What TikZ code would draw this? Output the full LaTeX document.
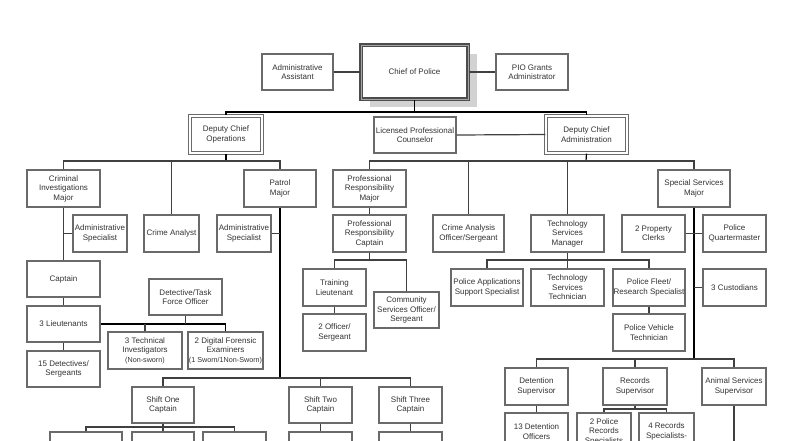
\documentclass[tikz,border=0pt]{standalone}
\usepackage{fontspec}
\setmainfont{Liberation Sans}
\definecolor{bord}{HTML}{6A6A6A}
\definecolor{txt}{HTML}{333333}
\definecolor{shad}{HTML}{D2D2D2}
\tikzset{
  box/.style={draw=bord, line width=1.1pt, fill=white, align=center, inner sep=0.5pt,
    text=txt, font=\fontsize{6}{7.1}\selectfont},
  dbl/.style={draw=bord, line width=0.9pt, double=white, double distance=0.8pt},
  chiefbox/.style={draw=black!70, line width=1.1pt, double=black!35, double distance=0.7pt},
  trunk/.style={draw=black, line width=0.9pt},
  link/.style={draw=black!75, line width=0.9pt}
}
\newcommand\smalltxt{\fontsize{5.4}{6.4}\selectfont}
\newcommand\bx[7][]{\node[box,#1,minimum width={(#5-#3)*0.75pt},minimum height={(#6-#4)*0.75pt}] (#2) at ({(#3+#5)/2},{(#4+#6)/2}) {#7};}
\begin{document}
\begin{tikzpicture}[x=0.75pt,y=-0.75pt]
\useasboundingbox (0,0) rectangle (793,440);
\clip (0,0) rectangle (793,440);
% top
\bx[fill=shad,draw=none]{chiefsh}{370}{54}{477}{107}{}
\bx[chiefbox]{chief}{361}{45}{468}{99}{Chief of Police}
\bx{adma}{262}{54}{333}{90}{Administrative\\Assistant}
\bx{pio}{496}{54}{568}{90}{PIO Grants\\Administrator}
\bx[dbl]{dco}{190}{116}{262}{153}{Deputy Chief\\Operations}
\bx{lpc}{374}{117}{456}{153}{Licensed Professional\\Counselor}
\bx[dbl]{dca}{546}{116}{627}{153}{Deputy Chief\\Administration}
% operations
\bx{cim}{27}{170}{100}{207}{Criminal\\Investigations\\Major}
\bx{as1}{73}{215}{127}{252}{Administrative\\Specialist}
\bx{ca}{144}{215}{199}{252}{Crime Analyst}
\bx{as2}{217}{215}{271}{252}{Administrative\\Specialist}
\bx{pm}{244}{170}{316}{207}{Patrol\\Major}
\bx{cap}{27}{261}{100}{297}{Captain}
\bx{dtf}{149}{279}{222}{315}{Detective/Task\\Force Officer}
\bx{lt3}{27}{306}{100}{342}{3 Lieutenants}
\bx{ti3}{108}{332}{182}{369}{3 Technical\\Investigators\\{\smalltxt (Non-sworn)}}
\bx{dfe}{189}{332}{262}{369}{2 Digital Forensic\\Examiners\\{\smalltxt (1 Sworn/1Non-Sworn)}}
\bx{ds15}{27}{351}{100}{387}{15 Detectives/\\Sergeants}
\bx{s1}{132}{387}{194}{423}{Shift One\\Captain}
\bx{s2}{289}{387}{352}{423}{Shift Two\\Captain}
\bx{s3}{379}{387}{442}{423}{Shift Three\\Captain}
\bx{s1a}{50}{432}{122}{469}{}
\bx{s1b}{132}{432}{194}{469}{}
\bx{s1c}{203}{432}{266}{469}{}
\bx{s2a}{289}{432}{352}{469}{}
\bx{s3a}{379}{432}{442}{469}{}
% administration
\bx{prm}{333}{170}{406}{207}{Professional\\Responsibility\\Major}
\bx{prc}{333}{215}{406}{252}{Professional\\Responsibility\\Captain}
\bx{cao}{433}{215}{504}{252}{Crime Analysis\\Officer/Sergeant}
\bx{tsm}{531}{215}{604}{252}{Technology\\Services\\Manager}
\bx{ssm}{658}{170}{730}{207}{Special Services\\Major}
\bx{ppc}{622}{215}{685}{252}{2 Property\\Clerks}
\bx{pq}{703}{215}{766}{252}{Police\\Quartermaster}
\bx{tl}{303}{269}{366}{306}{Training\\Lieutenant}
\bx{cso}{374}{292}{439}{328}{Community\\Services Officer/\\Sergeant}
\bx{os2}{303}{314}{366}{351}{2 Officer/\\Sergeant}
\bx{pas}{451}{269}{523}{306}{Police Applications\\Support Specialist}
\bx{tst}{531}{269}{604}{306}{Technology\\Services\\Technician}
\bx{pfr}{613}{269}{685}{306}{Police Fleet/\\Research Specialist}
\bx{pvt}{613}{314}{685}{351}{Police Vehicle\\Technician}
\bx{cu3}{703}{269}{766}{306}{3 Custodians}
\bx{dsup}{505}{368}{568}{405}{Detention\\Supervisor}
\bx{rsup}{603}{368}{667}{405}{Records\\Supervisor}
\bx{asup}{702}{368}{766}{405}{Animal Services\\Supervisor}
\bx{do13}{505}{413}{568}{450}{13 Detention\\Officers}
\bx{pr2}{577}{413}{631}{450}{2 Police\\Records\\Specialists}
\bx{rs4}{639}{413}{694}{450}{4 Records\\Specialists-}
% junctions
\coordinate (j0) at (414.5,112);
\coordinate (j1) at (226,161);
\coordinate (j2) at (280,378);
\coordinate (j4) at (163,427);
\coordinate (j5) at (586,161);
\coordinate (j6) at (369.5,260);
\coordinate (j7) at (567.5,260);
\coordinate (j8) at (694,359);
\coordinate (j9) at (635,409);
\coordinate (aend) at (734,470);
% connectors
\draw[link] (adma.east) -- (chief.west);
\draw[link] (chief.east) -- (pio.west);
\draw[link] (lpc.east) -- (dca.west);
\draw[trunk] (chief.south) -- (j0);
\draw[trunk] (dco.north) |- (j0) -| (dca.north);
\draw[trunk] (dco.south) -- (j1);
\draw[link] (cim.north) |- (j1) -| (pm.north);
\draw[link] (ca.north) -- (ca.north |- j1);
\draw[link] (cim.south) -- (cap.north);
\draw[link] (as1.west) -- (as1.west -| cim.south);
\draw[link] (cap.south) -- (lt3.north);
\draw[link] (lt3.south) -- (ds15.north);
\draw[trunk] (lt3.east) -| (dfe.north);
\draw[link] (dtf.south) -- (dtf.south |- lt3.east);
\draw[link] (ti3.north) -- (ti3.north |- lt3.east);
\draw[trunk] (pm.south) -- (j2);
\draw[link] (as2.east) -- (as2.east -| pm.south);
\draw[link] (s1.north) |- (j2) -| (s3.north);
\draw[link] (s2.north) -- (s2.north |- j2);
\draw[link] (s1.south) -- (s1b.north);
\draw[link] (s1a.north) |- (j4) -| (s1c.north);
\draw[link] (s2.south) -- (s2a.north);
\draw[link] (s3.south) -- (s3a.north);
\draw[trunk] (dca.south) -- (j5);
\draw[link] (prm.north) |- (j5) -| (ssm.north);
\draw[link] (cao.north) -- (cao.north |- j5);
\draw[link] (tsm.north) -- (tsm.north |- j5);
\draw[link] (prm.south) -- (prc.north);
\draw[link] (prc.south) -- (j6);
\draw[link] (tl.north) |- (j6) -| (cso.north);
\draw[link] (tl.south) -- (os2.north);
\draw[link] (tsm.south) -- (tst.north);
\draw[link] (pas.north) |- (j7) -| (pfr.north);
\draw[link] (pfr.south) -- (pvt.north);
\draw[trunk] (ssm.south) -- (j8);
\draw[link] (ppc.east) -- (pq.west);
\draw[link] (cu3.west) -- (cu3.west -| ssm.south);
\draw[link] (dsup.north) |- (j8) -| (asup.north);
\draw[link] (rsup.north) -- (rsup.north |- j8);
\draw[link] (dsup.south) -- (do13.north);
\draw[link] (rsup.south) -- (j9);
\draw[link] (pr2.north) |- (j9) -| (rs4.north);
\draw[link] (asup.south) -- (aend);
\end{tikzpicture}
\end{document}
